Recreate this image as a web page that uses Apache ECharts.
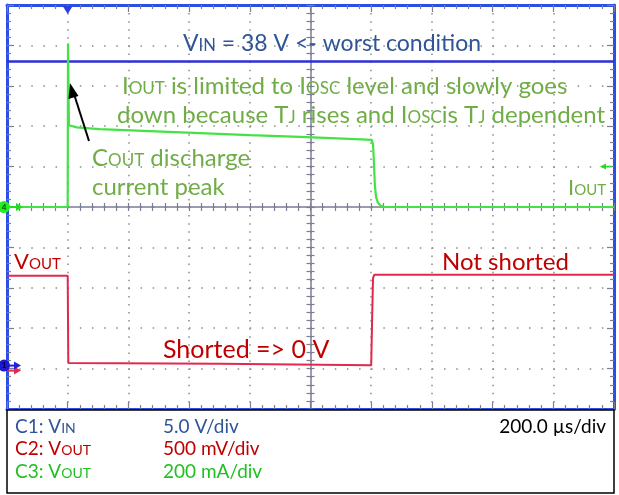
<!DOCTYPE html>
<html>
<head>
<meta charset="utf-8">
<script src="https://cdn.jsdelivr.net/npm/echarts@6/dist/echarts.min.js"></script>
<style>
  html, body { margin: 0; padding: 0; background: #ffffff; }
  #scope { width: 619px; height: 495px; }
</style>
</head>
<body>
<div id="scope"></div>
<script>
// Horizontal time base: 200 µs/div, 10 divisions, trigger at t = 0 µs
const timeStartUs = -200;
const timePerDivUs = 200;
const divisions = 10;

// C1: input voltage (V)
const vinTimeUs = [-200, 1800];
const vinVolts = [38, 38];

// C2: output voltage (V)
const voutTimeUs = [-200, 0, 2, 500, 1000, 1003, 1006, 1010, 1800];
const voutVolts = [1.15, 1.15, 0.07, 0.06, 0.04, 0.6, 1.12, 1.16, 1.16];

// C3: output current (mA)
const ioutTimeUs = [-200, 0, 1, 4, 8, 30, 105, 270, 435, 600, 765, 929, 1002, 1006, 1009, 1012, 1016, 1022, 1030, 1042, 1800];
const ioutMilliamps = [0, 0, 810, 405, 400, 394, 386, 376, 366, 356, 347, 337, 332, 310, 220, 110, 50, 22, 8, 0, 0];

// Vertical settings per channel: units per division and reference level (divisions above bottom)
const channelScale = [5.0, 0.5, 200];
const channelRefDiv = [1.0, 1.0, 5.0];

// Legend texts below the screen
const channelNames = [['C1: V', 'IN'], ['C2: V', 'OUT'], ['C3: V', 'OUT']];
const channelDivText = ['5.0 V/div', '500 mV/div', '200 mA/div'];
const timeDivText = '200.0 µs/div';

const FONT = 'Lato, "Open Sans", sans-serif';
const FRAME = '#2b4ee6';
const TICK = '#7c7c96';
const DOT = '#8a8a8a';
const C1_TEXT = '#2f5597';
const C2_TEXT = '#c00000';
const C3_TEXT = '#1fc01f';
const NOTE_GREEN = '#70ad47';

const timeMax = timeStartUs + divisions * timePerDivUs;
const chMin = i => -channelRefDiv[i] * channelScale[i];
const chMax = i => (divisions - channelRefDiv[i]) * channelScale[i];

const pairs = (xs, ys) => xs.map((x, i) => [x, ys[i]]);

const chart = echarts.init(document.getElementById('scope'), null, { renderer: 'canvas' });

const edgeTick = (inside) => ({
  show: true, inside: inside, length: 7,
  lineStyle: { color: TICK, width: 1.2 }
});
const edgeMinor = { show: true, splitNumber: 5, length: 4, lineStyle: { color: TICK, width: 1.2 } };
const centerMinor = (len) => ({ show: true, splitNumber: 5, length: len, lineStyle: { color: TICK, width: 1.2 } });

const baseTimeAxis = {
  type: 'value', min: timeStartUs, max: timeMax, interval: timePerDivUs,
  axisLabel: { show: false }
};

const option = {
  animation: false,
  backgroundColor: '#ffffff',
  grid: { left: 7, top: 5, width: 607, height: 404, show: false },
  xAxis: [
    // bottom edge + vertical dotted graticule
    Object.assign({}, baseTimeAxis, {
      position: 'bottom',
      axisLine: { show: true, onZero: false, lineStyle: { color: FRAME, width: 3 } },
      axisTick: edgeTick(true), minorTick: edgeMinor,
      splitLine: { show: true, lineStyle: { color: DOT, width: 1.5, type: [1.5, 6.58], dashOffset: 0 } }
    }),
    // top edge
    Object.assign({}, baseTimeAxis, {
      position: 'top',
      axisLine: { show: true, onZero: false, lineStyle: { color: FRAME, width: 3 } },
      axisTick: edgeTick(true), minorTick: edgeMinor,
      splitLine: { show: false }
    }),
    // horizontal centre line, ticks on both sides
    Object.assign({}, baseTimeAxis, {
      position: 'bottom',
      axisLine: { show: true, onZero: true, onZeroAxisIndex: 2, lineStyle: { color: TICK, width: 1.5 } },
      axisTick: { show: true, inside: true, length: 4, lineStyle: { color: TICK, width: 1.2 } },
      minorTick: centerMinor(4), splitLine: { show: false }
    }),
    Object.assign({}, baseTimeAxis, {
      position: 'bottom',
      axisLine: { show: false, onZero: true, onZeroAxisIndex: 2 },
      axisTick: { show: true, inside: false, length: 4, lineStyle: { color: TICK, width: 1.2 } },
      minorTick: centerMinor(4), splitLine: { show: false }
    }),
    // screen-centred helper axis for the vertical centre line
    { type: 'value', min: -5, max: 5, interval: 1, show: false }
  ],
  yAxis: [
    // C1 scale, left edge + horizontal dotted graticule
    {
      type: 'value', position: 'left', min: chMin(0), max: chMax(0), interval: channelScale[0],
      axisLabel: { show: false },
      axisLine: { show: true, onZero: false, lineStyle: { color: FRAME, width: 3 } },
      axisTick: edgeTick(true), minorTick: edgeMinor,
      splitLine: { show: true, lineStyle: { color: DOT, width: 1.5, type: [1.5, 10.64], dashOffset: 0 } }
    },
    // C2 scale, right edge
    {
      type: 'value', position: 'right', min: chMin(1), max: chMax(1), interval: channelScale[1],
      axisLabel: { show: false },
      axisLine: { show: true, onZero: false, lineStyle: { color: FRAME, width: 3 } },
      axisTick: edgeTick(true), minorTick: edgeMinor,
      splitLine: { show: false }
    },
    // C3 scale (hidden)
    { type: 'value', min: chMin(2), max: chMax(2), interval: channelScale[2], show: false },
    // vertical centre line, ticks on both sides
    {
      type: 'value', position: 'left', min: -5, max: 5, interval: 1,
      axisLabel: { show: false },
      axisLine: { show: true, onZero: true, onZeroAxisIndex: 4, lineStyle: { color: TICK, width: 1.5 } },
      axisTick: { show: true, inside: true, length: 4, lineStyle: { color: TICK, width: 1.2 } },
      minorTick: centerMinor(4), splitLine: { show: false }
    },
    {
      type: 'value', position: 'left', min: -5, max: 5, interval: 1,
      axisLabel: { show: false },
      axisLine: { show: false, onZero: true, onZeroAxisIndex: 4 },
      axisTick: { show: true, inside: false, length: 4, lineStyle: { color: TICK, width: 1.2 } },
      minorTick: centerMinor(4), splitLine: { show: false }
    }
  ],
  series: [
    {
      name: 'C1', type: 'line', xAxisIndex: 0, yAxisIndex: 0, showSymbol: false, z: 5,
      lineStyle: { color: '#2f2fd6', width: 2.5 }, data: pairs(vinTimeUs, vinVolts)
    },
    {
      name: 'C2', type: 'line', xAxisIndex: 0, yAxisIndex: 1, showSymbol: false, z: 5,
      lineStyle: { color: '#e3284f', width: 2 }, data: pairs(voutTimeUs, voutVolts)
    },
    {
      name: 'C3', type: 'line', xAxisIndex: 0, yAxisIndex: 2, showSymbol: false, z: 6,
      lineStyle: { color: '#44e244', width: 2.2 }, data: pairs(ioutTimeUs, ioutMilliamps)
    }
  ]
};

chart.setOption(option);

// ---- annotations and scope markers ----
const big = 24, small = 17;
const rich = (color, size, sub) => ({
  n: { fontSize: size, fontFamily: FONT, fill: color, verticalAlign: 'bottom' },
  s: { fontSize: sub, fontFamily: FONT, fill: color, verticalAlign: 'bottom', padding: [0, 0, 1, 0] }
});
const note = (x, y, text, color, size, sub, align) => ({
  type: 'text', x: x, y: y, z: 20,
  style: {
    text: text, rich: rich(color, size || big, sub || small),
    align: align || 'left', verticalAlign: 'middle'
  }
});

const px = (t, v, yi) => chart.convertToPixel({ xAxisIndex: 0, yAxisIndex: yi }, [t, v]);
const trigTop = px(0, chMax(0), 0);
const c3Ref = px(timeStartUs, 0, 2);
const c1Ref = px(timeStartUs, 0, 0);
const c2Ref = px(timeStartUs, 0, 1);
const c3Trig = px(timeMax, 200, 2);

const elements = [
  // trigger position marker
  { type: 'polygon', z: 30, shape: { points: [[trigTop[0] - 5, trigTop[1] + 1], [trigTop[0] + 5, trigTop[1] + 1], [trigTop[0], trigTop[1] + 9]] }, style: { fill: '#2b3fe0' } },
  // C3 reference
  { type: 'line', z: 30, shape: { x1: c3Ref[0], y1: c3Ref[1], x2: c3Ref[0] + 12, y2: c3Ref[1] }, style: { stroke: '#22dd22', lineWidth: 2 } },
  { type: 'polygon', z: 30, shape: { points: [[c3Ref[0] + 9, c3Ref[1] - 4], [c3Ref[0] + 16, c3Ref[1]], [c3Ref[0] + 9, c3Ref[1] + 4]] }, style: { fill: '#22dd22' } },
  { type: 'circle', z: 31, shape: { cx: c3Ref[0] - 3, cy: c3Ref[1], r: 6 }, style: { fill: '#22ee22' } },
  { type: 'text', z: 32, x: c3Ref[0] - 3, y: c3Ref[1], style: { text: '4', fontSize: 8, fontFamily: FONT, fontWeight: 'bold', fill: '#114411', align: 'center', verticalAlign: 'middle' } },
  // C2 reference
  { type: 'line', z: 30, shape: { x1: c2Ref[0], y1: c2Ref[1] + 2, x2: c2Ref[0] + 10, y2: c2Ref[1] + 2 }, style: { stroke: '#e3284f', lineWidth: 2 } },
  { type: 'polygon', z: 30, shape: { points: [[c2Ref[0] + 7, c2Ref[1] - 2], [c2Ref[0] + 14, c2Ref[1] + 2], [c2Ref[0] + 7, c2Ref[1] + 6]] }, style: { fill: '#e3284f' } },
  // C1 reference
  { type: 'line', z: 31, shape: { x1: c1Ref[0], y1: c1Ref[1] - 3, x2: c1Ref[0] + 10, y2: c1Ref[1] - 3 }, style: { stroke: '#2222dd', lineWidth: 2 } },
  { type: 'polygon', z: 31, shape: { points: [[c1Ref[0] + 7, c1Ref[1] - 7], [c1Ref[0] + 14, c1Ref[1] - 3], [c1Ref[0] + 7, c1Ref[1] + 1]] }, style: { fill: '#2222dd' } },
  { type: 'circle', z: 32, shape: { cx: c1Ref[0] - 3, cy: c1Ref[1] - 3, r: 6 }, style: { fill: '#1a1ad0' } },
  { type: 'text', z: 33, x: c1Ref[0] - 3, y: c1Ref[1] - 3, style: { text: '1', fontSize: 8, fontFamily: FONT, fontWeight: 'bold', fill: '#000033', align: 'center', verticalAlign: 'middle' } },
  // C3 trigger level marker on the right edge
  { type: 'line', z: 30, shape: { x1: c3Trig[0] - 10, y1: c3Trig[1], x2: c3Trig[0] - 2, y2: c3Trig[1] }, style: { stroke: '#22dd22', lineWidth: 1.5 } },
  { type: 'polygon', z: 30, shape: { points: [[c3Trig[0] - 14, c3Trig[1]], [c3Trig[0] - 8, c3Trig[1] - 3], [c3Trig[0] - 8, c3Trig[1] + 3]] }, style: { fill: '#22dd22' } },

  // text notes on the screen
  note(183, 44, '{n|V}{s|IN}{n| = 38 V <- worst condition}', C1_TEXT, 23, 16.5),
  note(122, 86, '{n|I}{s|OUT}{n| is limited to I}{s|OSC}{n| level and slowly goes}', NOTE_GREEN),
  note(117, 115, '{n|down because T}{s|J}{n| rises and I}{s|OSC}{n|is T}{s|J}{n| dependent}', NOTE_GREEN),
  note(92, 158, '{n|C}{s|OUT}{n| discharge}', NOTE_GREEN),
  note(92, 187, '{n|current peak}', NOTE_GREEN),
  note(568, 188, '{n|I}{s|OUT}', NOTE_GREEN, 22, 15),
  note(14, 262, '{n|V}{s|OUT}', C2_TEXT, 22, 15),
  note(442, 262, '{n|Not shorted}', C2_TEXT),
  note(163, 350, '{n|Shorted => 0 V}', C2_TEXT, 25, 17),

  // arrow pointing at the current peak
  { type: 'line', z: 25, shape: { x1: 89, y1: 141, x2: 74, y2: 94 }, style: { stroke: '#000000', lineWidth: 2 } },
  { type: 'polygon', z: 25, shape: { points: [[70, 83], [78.5, 96], [68.5, 99]] }, style: { fill: '#000000' } },

  // channel info box
  { type: 'rect', z: 10, shape: { x: 7, y: 410, width: 607, height: 83 }, style: { fill: '#ffffff', stroke: '#000000', lineWidth: 1.5 } }
];

const infoColors = [C1_TEXT, C2_TEXT, C3_TEXT];
const infoRows = [427, 449, 472];
channelNames.forEach((nm, i) => {
  elements.push(note(15, infoRows[i], '{n|' + nm[0] + '}{s|' + nm[1] + '}', infoColors[i], 19, 14));
  elements.push(note(163, infoRows[i], '{n|' + channelDivText[i] + '}', infoColors[i], 19, 14));
});
elements.push(note(606, infoRows[0], '{n|' + timeDivText + '}', '#000000', 19, 14, 'right'));

chart.setOption({ graphic: elements });
</script>
</body>
</html>
